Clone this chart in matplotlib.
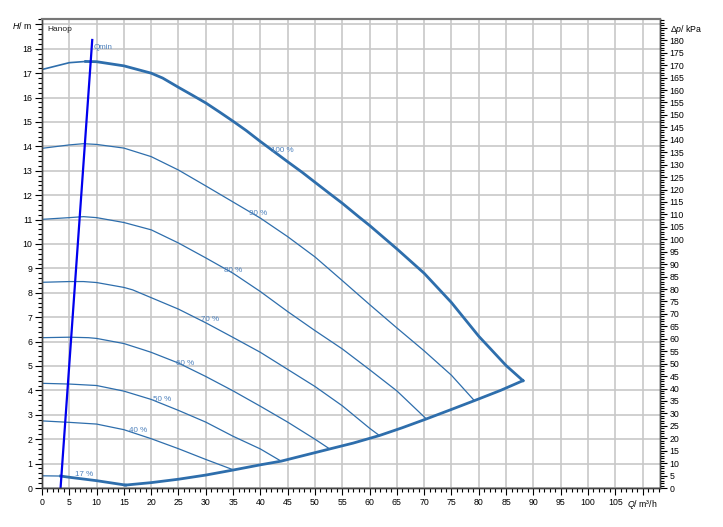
import matplotlib
matplotlib.use('Agg')
import matplotlib.pyplot as plt
from matplotlib.ticker import MultipleLocator

plt.rcParams['font.family'] = ['Liberation Sans', 'DejaVu Sans']
plt.rcParams['mathtext.fontset'] = 'custom'
plt.rcParams['mathtext.it'] = 'Liberation Sans:italic'
plt.rcParams['mathtext.rm'] = 'Liberation Sans'

# Pump curves, Q in m3/h, H in m
q100 = [0, 5, 8, 10, 15, 20, 22.1, 25, 27.6, 30, 32.5, 35, 37.4, 40, 42.9, 45, 47.7, 50,
        52.6, 55, 58.1, 60, 65, 70, 75, 80, 85, 88.1]
h100 = [17.15, 17.43, 17.48, 17.47, 17.3, 17.0, 16.8, 16.42, 16.09, 15.78, 15.41, 15.03,
        14.65, 14.2, 13.72, 13.37, 12.93, 12.53, 12.08, 11.67, 11.1, 10.76, 9.8, 8.8,
        7.6, 6.22, 5.02, 4.4]

q90 = [0, 5, 7.6, 10, 15, 20, 25, 30, 35, 40, 45, 50, 55, 60, 65, 70, 75, 79.2]
h90 = [13.92, 14.06, 14.11, 14.08, 13.93, 13.58, 13.03, 12.38, 11.72, 11.06, 10.3, 9.47,
       8.5, 7.52, 6.56, 5.62, 4.62, 3.58]

q80 = [0, 5, 7.6, 10, 15, 20, 25, 30, 35, 40, 45, 50, 55, 60, 65, 70.4]
h80 = [11.01, 11.08, 11.12, 11.08, 10.88, 10.58, 10.04, 9.43, 8.8, 8.05, 7.23, 6.45,
       5.7, 4.85, 3.98, 2.83]

q70 = [0, 5, 7.6, 10, 15, 16.6, 20, 25, 30, 35, 40, 45, 50, 55, 60, 61.8]
h70 = [8.43, 8.46, 8.46, 8.42, 8.22, 8.12, 7.8, 7.33, 6.77, 6.17, 5.56, 4.86, 4.16,
       3.37, 2.45, 2.15]

q60 = [0, 5, 8.5, 10, 15, 18.5, 20, 25, 30, 35, 40, 45, 50, 52.7]
h60 = [6.16, 6.18, 6.16, 6.13, 5.92, 5.67, 5.56, 5.12, 4.57, 3.98, 3.35, 2.7, 2.0, 1.6]

q50 = [0, 5, 10, 15, 20, 25, 30, 35, 40, 43.8]
h50 = [4.29, 4.26, 4.2, 3.97, 3.63, 3.18, 2.7, 2.12, 1.6, 1.1]

q40 = [0, 5, 10, 15, 20, 25, 30, 35.1]
h40 = [2.75, 2.69, 2.62, 2.39, 2.02, 1.61, 1.17, 0.74]

q17 = [0, 3.4, 5, 10, 15.3]
h17 = [0.5, 0.49, 0.44, 0.3, 0.12]

# max flow boundary (thick lower curve)
q_sys = [15.3, 20, 25, 30, 35.1, 40, 43.8, 47, 52.7, 57, 61.8, 66, 70.4, 75, 79.2, 84, 88.1]
h_sys = [0.12, 0.22, 0.36, 0.53, 0.74, 0.95, 1.1, 1.28, 1.6, 1.84, 2.15, 2.47, 2.83, 3.22,
         3.58, 4.0, 4.4]

# Qmin line
q_min = [3.4, 9.2]
h_min = [0.0, 18.36]

curves = [(q90, h90, '90 %', 39.5, 11.26),
          (q80, h80, '80 %', 35.0, 8.93),
          (q70, h70, '70 %', 30.8, 6.89),
          (q60, h60, '60 %', 26.3, 5.11),
          (q50, h50, '50 %', 22.0, 3.61),
          (q40, h40, '40 %', 17.6, 2.34)]

line_col = '#2e6eac'
text_col = '#4f82bd'

fig = plt.figure(figsize=(7.23, 5.27), dpi=100)
ax = fig.add_axes([42 / 723, 39 / 527, 618 / 723, 469 / 527])

ax.set_xlim(0, 113.2)
ax.set_ylim(0, 19.22)

for q, h, lab, lx, ly in curves:
    ax.plot(q, h, color=line_col, lw=0.9)
    ax.text(lx, ly, lab, color=text_col, fontsize=5.8, ha='center', va='center')

# 100 % curve: thin left of Qmin, thick after
ax.plot(q100[:3], h100[:3], color=line_col, lw=1.2)
ax.plot(q100[2:], h100[2:], color=line_col, lw=2.0)
ax.text(44.05, 13.85, '100 %', color=text_col, fontsize=5.8, ha='center', va='center')

ax.plot(q17[:2], h17[:2], color=line_col, lw=0.9)
ax.plot(q17[1:], h17[1:], color=line_col, lw=2.0)
ax.text(7.66, 0.56, '17 %', color=text_col, fontsize=5.8, ha='center', va='center')

ax.plot(q_sys, h_sys, color=line_col, lw=2.0)

ax.plot(q_min, h_min, color='#0000ee', lw=1.6)
ax.text(9.5, 18.06, 'Qmin', color=text_col, fontsize=5.8, ha='left', va='center')

ax.text(1.0, 18.8, 'Hanop', color='#222222', fontsize=6, ha='left', va='center')

# grid and ticks
ax.set_axisbelow(True)
ax.grid(True, which='major', color='#c8c8c8', lw=1.2)

xt = list(range(0, 111, 5))
ax.set_xticks(xt)
ax.set_xticklabels([str(v) for v in xt[:-1]] + ['$Q$/ m³/h'])
ax.xaxis.set_minor_locator(MultipleLocator(1))

yt = list(range(0, 20))
ax.set_yticks(yt)
ax.set_yticklabels([str(v) for v in yt[:-1]] + ['$H$/ m'])
ax.yaxis.set_minor_locator(MultipleLocator(0.2))

ax.tick_params(which='major', direction='out', length=5, width=0.8, labelsize=6.3, pad=2)
ax.tick_params(which='minor', direction='out', length=3, width=0.8)

ax2 = ax.twinx()
ax2.set_ylim(0, 19.22 * 9.81)
rt = list(range(0, 186, 5))
ax2.set_yticks(rt)
ax2.set_yticklabels([str(v) for v in rt[:-1]] + ['Δ$p$/ kPa'])
ax2.yaxis.set_minor_locator(MultipleLocator(1))
ax2.tick_params(which='major', direction='out', length=5, width=0.8, labelsize=6.3, pad=2)
ax2.tick_params(which='minor', direction='out', length=3, width=0.8)

for a in (ax, ax2):
    for s in a.spines.values():
        s.set_color('#444444')
        s.set_linewidth(1.0)
    a.spines['top'].set_color('#777777')
    a.spines['top'].set_linewidth(1.5)

plt.savefig('out.png', dpi=100)
